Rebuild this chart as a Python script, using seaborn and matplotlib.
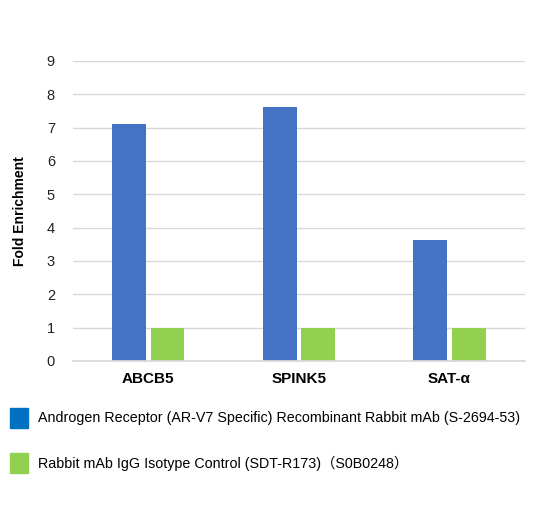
import matplotlib
matplotlib.use("Agg")
import matplotlib.pyplot as plt
import seaborn as sns
import pandas as pd
from matplotlib.patches import Rectangle

categories = ["ABCB5", "SPINK5", "SAT-α"]
series_names = ["Androgen Receptor (AR-V7 Specific) Recombinant Rabbit mAb (S-2694-53)",
                "Rabbit mAb IgG Isotype Control (SDT-R173)（S0B0248）"]
antibody = [7.12, 7.62, 3.62]
control = [1.0, 1.0, 1.0]
yticks = list(range(0, 10))

sns.set_theme(style="white")
plt.rcParams['font.family'] = ['Liberation Sans', 'Noto Sans CJK SC', 'DejaVu Sans']

df = pd.DataFrame({
    "cat": categories * 2,
    "val": antibody + control,
    "ser": [series_names[0]] * 3 + [series_names[1]] * 3,
})

fig = plt.figure(figsize=(5.45, 5.07), dpi=100)
ax = fig.add_axes([0.134, 0.288, 0.829, 0.592])
sns.barplot(data=df, x="cat", y="val", hue="ser", palette=["#4472C4", "#92D050"],
            width=0.51, gap=0.12, ax=ax, legend=False, saturation=1, linewidth=0)
ax.set_ylim(0, 9)
ax.set_yticks(yticks)
ax.set_yticklabels([str(t) for t in yticks], fontsize=10.5, color="#222222")
ax.yaxis.grid(True, color="#d9d9d9", linewidth=1)
ax.set_axisbelow(True)
for s in ["top", "right", "left"]:
    ax.spines[s].set_visible(False)
ax.spines["bottom"].set_color("#d9d9d9")
ax.tick_params(axis="y", length=0, pad=13)
ax.tick_params(axis="x", length=0, pad=8)
ax.set_xticks(range(len(categories)))
ax.set_xticklabels(categories, fontsize=11, fontweight="bold", color="black")
ax.set_xlabel("")
ax.set_ylabel("Fold Enrichment", fontsize=10, fontweight="bold", labelpad=14, color="black")

leg_colors = ["#0070C0", "#92D050"]
ys = [418, 463]
for c, y, name in zip(leg_colors, ys, series_names):
    fig.patches.append(Rectangle((10 / 545, 1 - (y + 10) / 507), 18 / 545, 20 / 507,
                                 transform=fig.transFigure, color=c))
    fig.text(38 / 545, 1 - y / 507, name, fontsize=10.3, va="center", ha="left", color="black")

fig.savefig("out.png", dpi=100)
